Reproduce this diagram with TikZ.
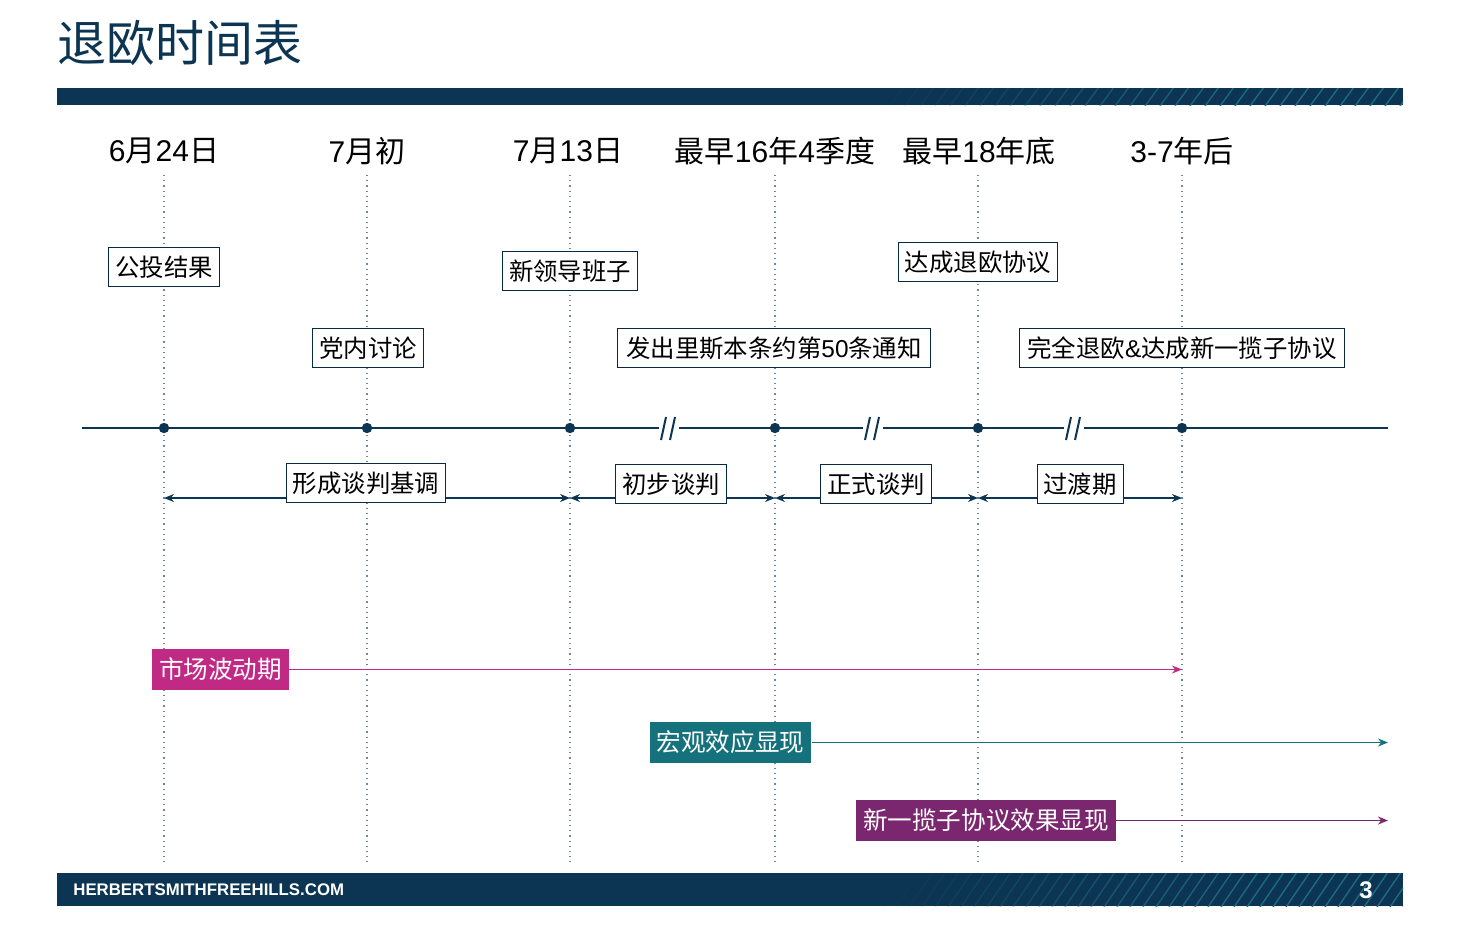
\documentclass[tikz,border=0pt]{standalone}
\usepackage{fontspec}
\setmainfont{Noto Sans CJK SC}
\newfontfamily\lat{Liberation Sans}
\usetikzlibrary{arrows.meta}
\definecolor{navy}{HTML}{0B3552}
\definecolor{hatchc}{HTML}{1F6A80}
\definecolor{vline}{HTML}{6F879C}
\definecolor{magentab}{HTML}{C12A84}
\definecolor{tealb}{HTML}{15717C}
\definecolor{purpleb}{HTML}{7B2770}
\tikzset{
  datelbl/.style={font=\fontsize{15}{18}\selectfont, text=black, anchor=center, inner sep=0pt},
  wbox/.style={draw=navy!80!black, line width=0.5pt, fill=white, font=\fontsize{12.2}{14}\selectfont, inner xsep=3.2pt, inner ysep=0pt, minimum height=19.5pt, text=black},
  cbox/.style={fill=#1, text=white, font=\fontsize{12.3}{14}\selectfont, inner xsep=3.5pt, inner ysep=0pt, minimum height=20.5pt},
  vguide/.style={vline, dotted, line width=0.6pt},
  tl/.style={navy, line width=1pt},
  dbl/.style={navy, line width=0.65pt, {Stealth[length=5pt,width=4pt]}-{Stealth[length=5pt,width=4pt]}},
  carrow/.style={#1, line width=0.85pt, -{Stealth[length=5pt,width=4pt]}},
  dotm/.style={circle, fill=navy, inner sep=0pt, minimum size=5.2pt},
  hatchl/.style={hatchc, line width=0.7pt}
}
\begin{document}
\begin{tikzpicture}[x=0.5pt,y=-0.5pt]
\useasboundingbox (0,0) rectangle (1460,926);
% title
\node[anchor=west, inner sep=0pt, text=navy, font=\fontsize{24.5}{28}\selectfont] (title) at (57,43) {退欧时间表};
% header bar
\fill[navy] (57,88) rectangle (1403,105);
\begin{scope}
\clip (57,88) rectangle (1403,105);
\foreach \x in {860,875,...,1420} {
  \pgfmathsetmacro\op{min(1,max(0,(\x-860)/380))}
  \draw[hatchl, opacity=\op] (\x,106) -- ++(14,-19);
}
\end{scope}
% footer bar
\fill[navy] (57,873) rectangle (1403,906);
\begin{scope}
\clip (57,873) rectangle (1403,906);
\foreach \x in {870,883,...,1420} {
  \pgfmathsetmacro\op{min(1,max(0,(\x-870)/380))}
  \draw[hatchl, opacity=\op] (\x,907) -- ++(24,-35);
}
\end{scope}
\node[anchor=west, inner sep=0pt, text=white, font=\lat\bfseries\fontsize{8.4}{10}\selectfont] (site) at (73,889.5) {HERBERTSMITHFREEHILLS.COM};
\node[inner sep=0pt, text=white, font=\lat\bfseries\fontsize{12}{14}\selectfont] (pg) at (1366,890) {3};

% guide lines
\foreach \n/\x in {a/164,b/367,c/570,d/775,e/978,f/1182} {
  \coordinate (top\n) at (\x,175);
  \coordinate (bot\n) at (\x,862);
  \draw[vguide] (top\n) -- (bot\n);
}
% dates
\node[datelbl] (da) at (164,151) {{\lat 6}月{\lat 24}日};
\node[datelbl] (db) at (367,151) {{\lat 7}月初};
\node[datelbl] (dc) at (568,151) {{\lat 7}月{\lat 13}日};
\node[datelbl] (dd) at (775,151) {最早{\lat 16}年{\lat 4}季度};
\node[datelbl] (de) at (979,151) {最早{\lat 18}年底};
\node[datelbl] (df) at (1182,151) {{\lat 3-7}年后};

% timeline
\coordinate (tlS) at (82,428);
\coordinate (tlE) at (1388,428);
\draw[tl] (tlS) -- (tlE);
\foreach \n/\x in {a/164,b/367,c/570,d/775,e/978,f/1182} {
  \node[dotm] (p\n) at (\x,428) {};
}
\foreach \n/\x in {1/669,2/873,3/1074} {
  \fill[white] (\x-10,420) rectangle (\x+10,436);
  \draw[tl] (\x-8,440) -- (\x-3,417);
  \draw[tl] (\x+1,440) -- (\x+6,417);
}

% top boxes
\node[wbox] (b1) at (164,267) {公投结果};
\node[wbox] (b2) at (570,271) {新领导班子};
\node[wbox] (b3) at (978,262) {达成退欧协议};
\node[wbox] (b4) at (368,348) {党内讨论};
\node[wbox, inner xsep=4.2pt] (b5) at (774,348) {发出里斯本条约第{\lat 50}条通知};
\node[wbox, inner xsep=4.2pt] (b6) at (1182,348) {完全退欧{\lat\&}达成新一揽子协议};

% phase arrows
\coordinate (qa) at (164,498);
\coordinate (qb) at (570,498);
\coordinate (qc) at (775,498);
\coordinate (qd) at (978,498);
\coordinate (qe) at (1182,498);
\draw[dbl] (qa) -- (qb);
\draw[dbl] (qb) -- (qc);
\draw[dbl] (qc) -- (qd);
\draw[dbl] (qd) -- (qe);
\node[wbox] (s1) at (366,483) {形成谈判基调};
\node[wbox] (s2) at (671,484) {初步谈判};
\node[wbox] (s3) at (876,484) {正式谈判};
\node[wbox] (s4) at (1080,484) {过渡期};

% coloured bars
\node[cbox=magentab] (m1) at (220.5,669.5) {市场波动期};
\coordinate (m1e) at (1182,669.5);
\draw[carrow=magentab] (m1.east) -- (m1e);
\node[cbox=tealb] (m2) at (730.5,742.5) {宏观效应显现};
\coordinate (m2e) at (1388,742.5);
\draw[carrow=tealb] (m2.east) -- (m2e);
\node[cbox=purpleb] (m3) at (986,820.5) {新一揽子协议效果显现};
\coordinate (m3e) at (1388,820.5);
\draw[carrow=purpleb] (m3.east) -- (m3e);
\end{tikzpicture}
\end{document}
